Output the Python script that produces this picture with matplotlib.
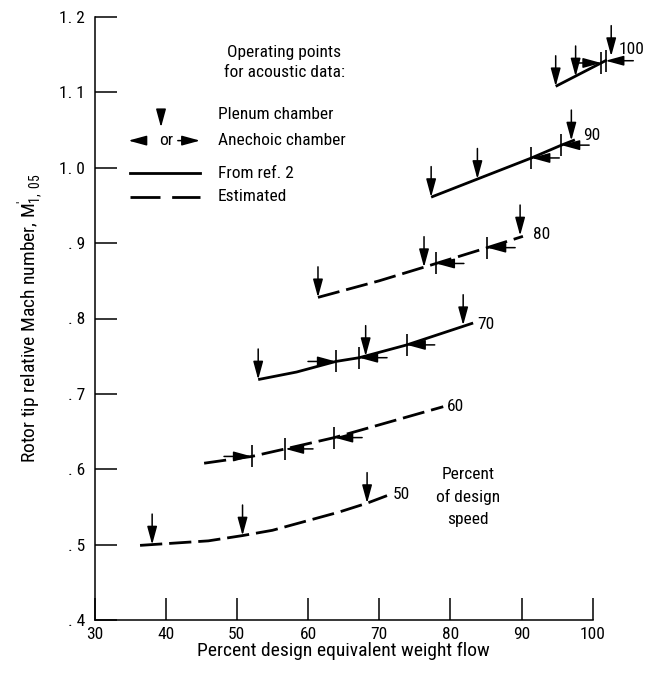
import matplotlib
matplotlib.use("Agg")
import matplotlib.pyplot as plt

plt.rcParams.update({
    "font.family": ["Roboto Condensed", "DejaVu Sans"],
    "mathtext.fontset": "custom",
    "mathtext.rm": "Roboto Condensed",
    "lines.scale_dashes": False,
})

# values (percent flow, relative Mach number)
flow50 = [36.4, 38.0, 46.0, 50.8, 55.0, 64.3, 68.3, 71.1]
mach50 = [0.499, 0.500, 0.505, 0.512, 0.519, 0.543, 0.555, 0.565]
plenum50 = [(38.1, 0.500), (50.8, 0.512), (68.3, 0.555)]
anechoic50 = []

flow60 = [45.4, 52.1, 56.8, 63.7, 73.4, 79.0]
mach60 = [0.608, 0.617, 0.627, 0.642, 0.668, 0.683]
plenum60 = []
anechoic60 = [(52.1, 0.617, "L"), (56.8, 0.627, "R"), (63.7, 0.642, "R")]

flow70 = [53.0, 58.4, 63.9, 67.2, 73.9, 83.2]
mach70 = [0.719, 0.729, 0.743, 0.748, 0.765, 0.794]
plenum70 = [(53.0, 0.719), (68.1, 0.750), (81.8, 0.791)]
anechoic70 = [(63.9, 0.743, "L"), (67.2, 0.748, "R"), (73.9, 0.765, "R")]

flow80 = [61.4, 70.0, 78.0, 85.2, 90.2]
mach80 = [0.828, 0.850, 0.873, 0.894, 0.909]
plenum80 = [(61.4, 0.828), (76.3, 0.868), (89.8, 0.910)]
anechoic80 = [(78.0, 0.873, "R"), (85.2, 0.894, "R")]

flow90 = [77.3, 83.8, 91.4, 95.6, 97.5]
mach90 = [0.961, 0.985, 1.013, 1.030, 1.037]
plenum90 = [(77.3, 0.961), (83.8, 0.985), (97.0, 1.036)]
anechoic90 = [(91.4, 1.013, "R"), (95.6, 1.030, "R")]

flow100 = [94.8, 102.0]
mach100 = [1.108, 1.143]
plenum100 = [(94.8, 1.108), (97.6, 1.121), (102.6, 1.148)]
anechoic100 = [(101.2, 1.139, "L"), (101.8, 1.142, "R")]

speed_labels = ["50", "60", "70", "80", "90", "100"]
label_pos = [(71.9, 0.566), (79.5, 0.683), (83.8, 0.792), (91.6, 0.911), (98.6, 1.043),
             (103.6, 1.157)]
estimated = [True, True, False, True, False, False]

x_ticks = [30, 40, 50, 60, 70, 80, 90, 100]
y_ticks = [0.4, 0.5, 0.6, 0.7, 0.8, 0.9, 1.0, 1.1, 1.2]
y_tick_labels = [". 4", ". 5", ". 6", ". 7", ". 8", ". 9", "1. 0", "1. 1", "1. 2"]

groups = [
    (flow50, mach50, plenum50, anechoic50),
    (flow60, mach60, plenum60, anechoic60),
    (flow70, mach70, plenum70, anechoic70),
    (flow80, mach80, plenum80, anechoic80),
    (flow90, mach90, plenum90, anechoic90),
    (flow100, mach100, plenum100, anechoic100),
]

LW = 2.0
FS = 12.5
ARROW = dict(arrowstyle="-|>,head_length=0.55,head_width=0.15", mutation_scale=20,
             lw=1.1, color="k", shrinkA=0, shrinkB=0)


def arrow(ax, xy, offset, coords="data"):
    ax.annotate("", xy=xy, xycoords=coords, xytext=offset, textcoords="offset points",
                arrowprops=ARROW, annotation_clip=False)


fig = plt.figure(figsize=(6.48, 6.75), dpi=100)
ax = fig.add_axes([94.5 / 648, 55 / 675, 498.2 / 648, 603 / 675])

for (fl, ma, plen, anech), lab, pos, est in zip(groups, speed_labels, label_pos, estimated):
    line, = ax.plot(fl, ma, color="k", lw=LW, clip_on=False, solid_capstyle="butt")
    if est:
        line.set_dashes((16, 5))
    for x, y in plen:
        arrow(ax, (x, y), (0, 22))
    for x, y, side in anech:
        ax.plot([x], [y], marker="|", ms=16, mew=1.2, color="k", clip_on=False)
        arrow(ax, (x, y), (-20 if side == "L" else 20, 0))
    ax.text(pos[0], pos[1], lab, ha="left", va="center", fontsize=FS, clip_on=False)

ax.set_xlim(30, 100)
ax.set_ylim(0.4, 1.2)
ax.set_xticks(x_ticks)
ax.set_yticks(y_ticks)
ax.set_yticklabels(y_tick_labels)
ax.tick_params(direction="in", length=16, width=1.1, labelsize=FS)
ax.tick_params(axis="y", pad=7)
ax.tick_params(axis="x", pad=5)
for s in ("top", "right"):
    ax.spines[s].set_visible(False)
for s in ("left", "bottom"):
    ax.spines[s].set_linewidth(1.1)

ax.set_xlabel("Percent design equivalent weight flow", fontsize=14, labelpad=0)
ax.set_ylabel(r"Rotor tip relative Mach number, $\mathregular{M^{\prime}_{1,\,05}}$",
              fontsize=14, labelpad=10)

# legend block
T = ax.transAxes
ax.text(0.381, 0.925, "Operating points\nfor acoustic data:", transform=T, ha="center",
        va="center", fontsize=FS, linespacing=1.45)
arrow(ax, (0.1335, 0.817), (0, 9), coords="axes fraction")
ax.text(0.2478, 0.8375, "Plenum chamber", transform=T, ha="left", va="center", fontsize=FS)
arrow(ax, (0.068, 0.795), (11, 0), coords="axes fraction")
arrow(ax, (0.2118, 0.795), (-16, 0), coords="axes fraction")
ax.text(0.1435, 0.796, "or", transform=T, ha="center", va="center", fontsize=FS)
ax.text(0.2478, 0.796, "Anechoic chamber", transform=T, ha="left", va="center", fontsize=FS)
ax.plot([0.0713, 0.2118], [0.7408, 0.7408], transform=T, color="k", lw=LW)
ax.text(0.2478, 0.7408, "From ref. 2", transform=T, ha="left", va="center", fontsize=FS)
est_line, = ax.plot([0.0713, 0.2118], [0.702, 0.702], transform=T, color="k", lw=LW)
est_line.set_dashes((21.6, 8.4))
ax.text(0.2478, 0.702, "Estimated", transform=T, ha="left", va="center", fontsize=FS)

ax.text(0.750, 0.2045, "Percent\nof design\nspeed", transform=T, ha="center", va="center",
        fontsize=FS, linespacing=1.55)

fig.savefig("out.png", dpi=100, facecolor="white")
